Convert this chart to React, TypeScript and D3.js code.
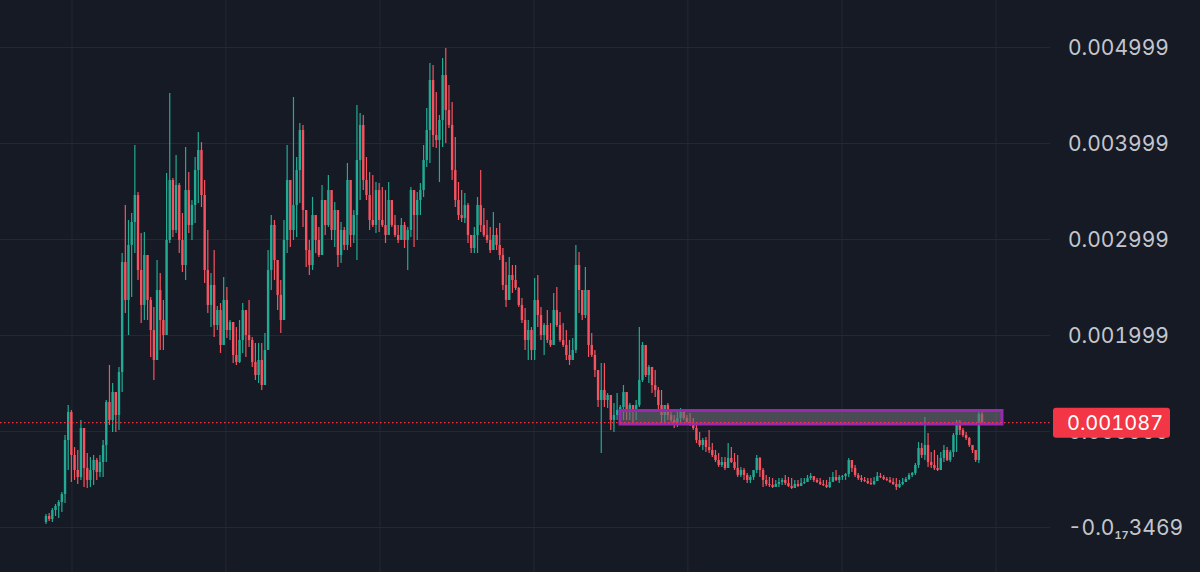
import React, { useEffect } from 'react';
import * as d3 from 'd3';

const W = 1200;
const H = 572;
const PRICE_UNIT = 1e-6; // candle values below are in millionths

const firstOpenU = 52;
const closeU = [
  115, 83, 177, 219, 260, 344, 906, 1198, 750, 594,
  521, 1031, 615, 490, 594, 698, 573, 677, 854, 1302,
  1115, 1406, 1167, 1615, 2760, 2365, 2938, 3177, 3458, 2677,
  2313, 2833, 2365, 2052, 1740, 2469, 2156, 2000, 2990, 3615,
  3094, 3563, 2990, 2729, 3510, 3146, 3354, 3719, 3927, 3458,
  2677, 2313, 2521, 2104, 2260, 1896, 2365, 2052, 2135, 1792,
  1719, 1948, 2260, 2000, 1948, 1719, 1583, 1740, 1479, 1844,
  2677, 3146, 2781, 2417, 2156, 2990, 3615, 3094, 3354, 3719,
  4135, 3302, 2885, 2729, 3250, 2990, 2833, 3406, 3146, 3510,
  3094, 3302, 2833, 3094, 2938, 3615, 3042, 3250, 3823, 4188,
  3615, 3458, 3198, 3146, 3510, 3198, 3146, 3042, 3406, 3146,
  3042, 2990, 3146, 2990, 3094, 3510, 3250, 3406, 3510, 3823,
  4135, 4656, 4083, 4031, 4240, 4708, 4344, 4188, 3719, 3406,
  3250, 3219, 3354, 3042, 2906, 3042, 3354, 3146, 3042, 2990,
  2885, 3042, 2938, 2833, 2521, 2365, 2625, 2573, 2490, 2313,
  2156, 1948, 2052, 1844, 2365, 2208, 2000, 2104, 1948, 1896,
  2260, 2104, 1948, 1896, 1792, 1740, 1844, 2729, 2469, 2208,
  2469, 1896, 1792, 1635, 1323, 1427, 1323, 1375, 1115, 1167,
  1219, 1250, 1406, 1219, 1271, 1198, 1271, 1531, 1896, 1583,
  1667, 1479, 1427, 1271, 1167, 1271, 1167, 1115, 1063, 1135,
  1198, 1135, 1094, 1073, 1031, 906, 854, 906, 833, 802,
  750, 698, 646, 677, 615, 719, 677, 615, 542, 594,
  542, 490, 521, 594, 719, 594, 490, 448, 438, 417,
  448, 469, 490, 458, 427, 406, 448, 427, 458, 469,
  510, 531, 490, 469, 448, 438, 417, 469, 521, 490,
  521, 531, 552, 698, 615, 542, 510, 490, 479, 458,
  448, 479, 531, 521, 500, 490, 469, 448, 417, 448,
  469, 500, 542, 563, 646, 823, 750, 854, 677, 646,
  615, 594, 719, 802, 698, 781, 958, 1094, 1010, 958,
  927, 854, 802, 698, 1177, 1087,
];
const highU = [
  135, 146, 198, 240, 281, 365, 958, 1271, 1219, 833,
  802, 1115, 979, 771, 729, 750, 719, 750, 906, 1323,
  1688, 1500, 1396, 1667, 2854, 3354, 3198, 3271, 3979, 3490,
  3063, 3073, 2500, 2396, 2292, 2781, 2646, 2365, 3688, 4521,
  3635, 3875, 3583, 3271, 3958, 3698, 3406, 3854, 4115, 4010,
  3615, 3094, 2646, 2885, 2302, 2333, 2604, 2500, 2156, 2104,
  2083, 2156, 2333, 2229, 2365, 1979, 1917, 1917, 1917, 2021,
  2885, 3250, 3198, 2750, 2573, 3198, 3979, 3542, 4479, 3854,
  4208, 4188, 3177, 2990, 3438, 3250, 3125, 3563, 3271, 3667,
  3250, 3385, 3177, 3177, 3125, 3792, 3490, 3302, 4396, 4313,
  4292, 3854, 3698, 3667, 3594, 3583, 3542, 3510, 3594, 3375,
  3250, 3146, 3219, 3177, 3125, 3542, 3458, 3490, 3583, 3979,
  4365, 4833, 4813, 4531, 4292, 4885, 4990, 4604, 4427, 4063,
  3594, 3510, 3479, 3375, 2990, 3125, 3438, 3719, 3323, 3198,
  3125, 3281, 3115, 3167, 2906, 2760, 2813, 2729, 2729, 2500,
  2385, 2281, 2156, 2083, 2594, 2625, 2292, 2125, 2260, 2125,
  2438, 2500, 2240, 2125, 2052, 1948, 1969, 2938, 2865, 2438,
  2708, 2469, 2021, 1844, 1604, 1708, 1708, 1396, 1344, 1292,
  1396, 1271, 1479, 1302, 1292, 1240, 1323, 2083, 1927, 1813,
  1688, 1604, 1635, 1458, 1427, 1271, 1292, 1219, 1167, 1198,
  1240, 1198, 1167, 1188, 1135, 1063, 990, 927, 938, 1010,
  875, 802, 771, 729, 729, 875, 833, 771, 750, 625,
  615, 563, 542, 594, 750, 729, 615, 542, 521, 510,
  490, 510, 510, 542, 521, 510, 490, 490, 510, 510,
  542, 563, 521, 510, 510, 490, 490, 521, 573, 594,
  542, 542, 563, 719, 677, 646, 563, 542, 521, 510,
  510, 521, 573, 563, 542, 521, 521, 510, 510, 490,
  510, 521, 563, 573, 667, 885, 875, 1146, 979, 781,
  802, 750, 781, 854, 833, 802, 979, 1115, 1115, 1031,
  990, 938, 854, 802, 1198, 1219,
];
const lowU = [
  31, 63, 52, 115, 94, 156, 250, 594, 469, 490,
  448, 490, 417, 406, 417, 438, 490, 521, 521, 677,
  1063, 990, 990, 1010, 1406, 2229, 2000, 2396, 2854, 2573,
  2125, 2156, 2156, 1771, 1531, 1813, 1844, 1844, 2156, 2958,
  3021, 3063, 2854, 2656, 2573, 3063, 2990, 3167, 3375, 3333,
  2542, 2229, 2083, 1979, 2052, 1813, 1979, 1969, 1948, 1708,
  1688, 1708, 1813, 1771, 1875, 1667, 1531, 1500, 1427, 1635,
  1979, 2469, 2573, 2260, 2021, 2229, 2854, 2917, 2990, 3021,
  3375, 3125, 2708, 2625, 2677, 2854, 2813, 2885, 3042, 3125,
  2990, 2917, 2708, 2750, 2885, 2885, 2917, 2958, 2781, 3406,
  3510, 3406, 3094, 3125, 3063, 3073, 3125, 2958, 3042, 3125,
  3021, 2958, 3021, 2906, 2677, 3021, 2917, 2990, 3250, 3438,
  3750, 3792, 3958, 3948, 3594, 3958, 4000, 4156, 3615, 3333,
  3198, 3177, 3167, 2958, 2854, 2854, 2854, 3073, 3021, 2958,
  2854, 2958, 2885, 2781, 2469, 2292, 2438, 2438, 2469, 2292,
  2125, 1844, 1740, 1740, 1740, 2083, 1948, 1792, 1917, 1875,
  1948, 2083, 1927, 1875, 1740, 1688, 1740, 1813, 2229, 2156,
  2177, 1771, 1771, 1563, 1250, 771, 1250, 1240, 1010, 990,
  1115, 1115, 1115, 1115, 1115, 1094, 1115, 1250, 1510, 1563,
  1500, 1396, 1354, 1219, 1083, 1083, 1115, 1083, 1031, 1042,
  1063, 1115, 1063, 1052, 1010, 875, 833, 802, 781, 771,
  729, 677, 625, 625, 594, 667, 667, 594, 521, 521,
  490, 458, 458, 490, 563, 521, 417, 427, 417, 406,
  417, 417, 438, 438, 417, 396, 406, 417, 427, 448,
  469, 490, 469, 458, 438, 427, 406, 406, 469, 479,
  458, 490, 490, 521, 573, 521, 490, 469, 469, 448,
  438, 438, 479, 510, 490, 479, 458, 438, 385, 406,
  438, 469, 490, 521, 542, 615, 719, 698, 625, 615,
  594, 583, 646, 677, 688, 677, 729, 781, 958, 938,
  906, 833, 771, 677, 667, 1073,
];

const yTickValues = [0.004999, 0.003999, 0.002999, 0.001999, 0.000999, -3.469e-21];
const yTickLabels = ['0.004999', '0.003999', '0.002999', '0.001999', '0.000999', '-0.0|17|3469'];
const timeGridIdx = [8.2, 56.7, 105.3, 153.8, 202.3, 250.9, 299.4];
const lastPrice = 0.001087;
const lastPriceLabel = '0.001087';
const zoneIdx = [180.9, 301.3];
const zonePrice = [0.001073, 0.0012135];

const BG = '#161a25';
const GRID = '#242833';
const UP = '#22ab94';
const DOWN = '#f7525f';
const AXIS_TEXT = '#c4c6cd';

export default function App() {
  useEffect(() => {
    document.body.style.margin = '0';
    document.body.style.background = BG;
  }, []);

  const n = closeU.length;
  const x = d3.scaleLinear().domain([0, n - 1]).range([46, 982]);
  const y = d3.scaleLinear().domain([0, 0.005]).range([527, 47]);

  const candles = closeU.map((c, i) => {
    const o = (i === 0 ? firstOpenU : closeU[i - 1]) * PRICE_UNIT;
    const cl = c * PRICE_UNIT;
    const hi = Math.max(highU[i] * PRICE_UNIT, o, cl);
    const lo = Math.min(lowU[i] * PRICE_UNIT, o, cl);
    return { i, o, c: cl, h: hi, l: lo, up: cl >= o };
  });

  const bodyW = 2.4;
  const font = 'Inter, "Noto Sans", Roboto, sans-serif';

  return (
    <svg width={W} height={H} style={{ position: 'absolute', left: 0, top: 0, display: 'block' }}>
      <rect x={0} y={0} width={W} height={H} fill={BG} />
      {/* grid */}
      {timeGridIdx.map((g, k) => (
        <line key={'v' + k} x1={x(g)} x2={x(g)} y1={0} y2={H} stroke={GRID} strokeWidth={1} />
      ))}
      {yTickValues.map((v, k) => (
        <line key={'h' + k} x1={0} x2={1050} y1={Math.round(y(v)) + 0.5} y2={Math.round(y(v)) + 0.5} stroke={GRID} strokeWidth={1} />
      ))}
      {/* candles */}
      {candles.map((d) => {
        const cx = x(d.i);
        const top = y(Math.max(d.o, d.c));
        const bot = y(Math.min(d.o, d.c));
        const col = d.up ? UP : DOWN;
        return (
          <g key={d.i}>
            <line x1={cx} x2={cx} y1={y(d.h)} y2={y(d.l)} stroke={col} strokeWidth={1.2} />
            <rect x={cx - bodyW / 2} y={top} width={bodyW} height={Math.max(1, bot - top)} fill={col} />
          </g>
        );
      })}
      {/* zone rectangle */}
      <rect
        x={x(zoneIdx[0])}
        y={y(zonePrice[1])}
        width={x(zoneIdx[1]) - x(zoneIdx[0])}
        height={y(zonePrice[0]) - y(zonePrice[1])}
        fill="rgba(110,110,118,0.6)"
        stroke="#9c27b0"
        strokeWidth={3}
      />
      {/* last price dotted line */}
      <line x1={0} x2={1052} y1={y(lastPrice)} y2={y(lastPrice)} stroke="#f23645" strokeWidth={1.3} strokeDasharray="1.5 2.5" />
      {/* axis labels */}
      {yTickValues.map((v, k) => {
        const lab = yTickLabels[k];
        const parts = lab.split('|');
        return (
          <text key={'t' + k} x={1068} y={y(v)} dy="0.36em" fill={AXIS_TEXT} fontSize={21} fontFamily={font}
            style={{ fontVariantNumeric: 'tabular-nums' }}>
            {parts.length === 1 ? (
              lab
            ) : (
              <>
                <tspan>{parts[0]}</tspan>
                <tspan fontSize={11} fontWeight={600} dy={4}>{parts[1]}</tspan>
                <tspan dy={-4}>{parts[2]}</tspan>
              </>
            )}
          </text>
        );
      })}
      {/* last price label */}
      <rect x={1053} y={y(lastPrice) - 15} width={117} height={30} rx={3} fill="#f23645" />
      <text x={1067} y={y(lastPrice)} dy="0.36em" fill="#ffffff" fontSize={20} fontFamily={font}
        style={{ fontVariantNumeric: 'tabular-nums' }}>
        {lastPriceLabel}
      </text>
    </svg>
  );
}
